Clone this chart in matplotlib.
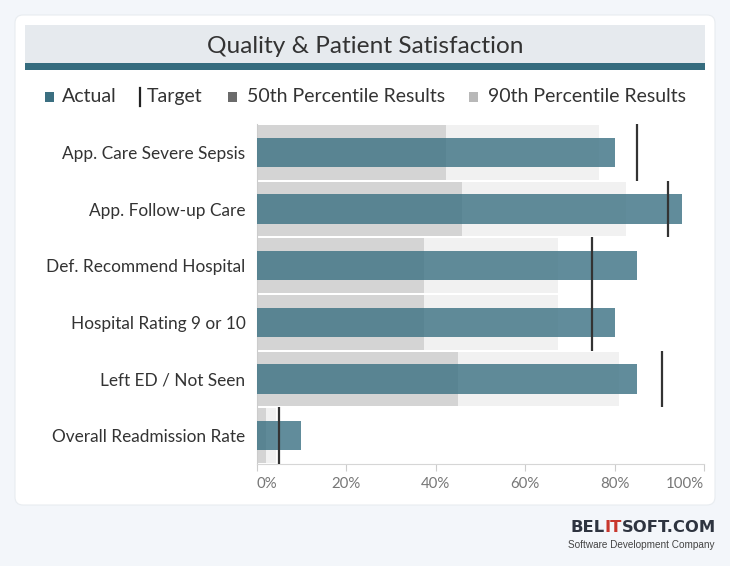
import numpy as np
import matplotlib
matplotlib.use("Agg")
import matplotlib.pyplot as plt
from matplotlib.patches import FancyBboxPatch, Rectangle

plt.rcParams['font.family'] = ['Lato', 'DejaVu Sans']

# data (percent)
categories = ["App. Care Severe Sepsis", "App. Follow-up Care", "Def. Recommend Hospital",
              "Hospital Rating 9 or 10", "Left ED / Not Seen", "Overall Readmission Rate"]
actual = [80, 95, 85, 80, 85, 10]
target = [85, 92, 75, 75, 90.5, 5]
p50 = [42.3, 46, 37.5, 37.5, 45, 2.1]
p90 = [76.5, 82.6, 67.4, 67.4, 81, 4.4]
tick_vals = [0, 20, 40, 60, 80, 100]
tick_labels = ["0%", "20%", "40%", "60%", "80%", "100%"]

W, H = 730, 566
fig = plt.figure(figsize=(W / 100, H / 100), dpi=100)
fig.patch.set_facecolor("#f3f6fa")

# background / decorations in pixel coordinates
bg = fig.add_axes([0, 0, 1, 1], zorder=0)
bg.set_xlim(0, W)
bg.set_ylim(H, 0)
bg.axis("off")
bg.add_patch(FancyBboxPatch((15, 15), 700, 490, boxstyle="round,pad=0,rounding_size=8",
                            fc="white", ec="#e8ecf0", lw=0.8))
bg.add_patch(Rectangle((25, 25), 680, 38, fc="#e6eaee", ec="none"))
bg.add_patch(Rectangle((25, 63), 680, 7, fc="#356c7e", ec="none"))
bg.text(365, 46.5, "Quality & Patient Satisfaction", ha="center", va="center",
        fontsize=17.6, color="#333333")

# legend
ly = 96.5
lfs = 14
bg.add_patch(Rectangle((45, ly - 5), 9, 10, fc="#3b6f81", ec="none"))
bg.text(62, ly, "Actual", va="center", fontsize=lfs, color="#333333")
bg.plot([140, 140], [ly - 9, ly + 9], color="#222222", lw=1.6)
bg.text(147, ly, "Target", va="center", fontsize=lfs, color="#333333")
bg.add_patch(Rectangle((228, ly - 5), 9, 10, fc="#6b6b6b", ec="none"))
bg.text(247, ly, "50th Percentile Results", va="center", fontsize=lfs, color="#333333")
bg.add_patch(Rectangle((469, ly - 5), 9, 10, fc="#b8b8b8", ec="none"))
bg.text(488, ly, "90th Percentile Results", va="center", fontsize=lfs, color="#333333")

# logo: chain the coloured pieces one after another
renderer = fig.canvas.get_renderer()
x0 = 570
for piece, col in [("BEL", "#2e3440"), ("IT", "#c8372d"), ("SOFT.COM", "#2e3440")]:
    t = bg.text(x0, 528, piece, fontsize=11.8, fontweight="bold", color=col, va="center",
                family=["DejaVu Sans"])
    bb = t.get_window_extent(renderer)
    x0 += bb.width
bg.text(714, 545, "Software Development Company", fontsize=7.2, color="#444444",
        ha="right", va="center", family=["Liberation Sans", "DejaVu Sans"])

# chart
ax = fig.add_axes([256.7 / W, 1 - 464 / H, 447.3 / W, 340 / H], zorder=1)
ax.set_facecolor("none")
y = np.arange(len(categories))

ax.barh(y, p90, height=0.97, color="#f1f1f1", zorder=1)
ax.barh(y, p50, height=0.97, color="#d4d4d4", zorder=2)
ax.barh(y, actual, height=0.52, color="#3a7082", alpha=0.8, zorder=3)
ax.vlines(target, y - 0.5, y + 0.5, color="#333333", lw=1.6, zorder=4)

ax.set_xlim(0, 100)
ax.set_ylim(len(categories) - 0.5, -0.5)
ax.set_yticks(y)
ax.set_yticklabels(categories, fontsize=12.4, color="#333333")
ax.tick_params(axis="y", length=0, pad=8)
ax.set_xticks(tick_vals)
ax.set_xticklabels(tick_labels, fontsize=10.8, color="#777777")
ax.tick_params(axis="x", length=5, color="#cccccc", pad=4)
for lab, ha in zip(ax.get_xticklabels(), ["left", "center", "center", "center", "center", "right"]):
    lab.set_ha(ha)

for s in ["top", "right"]:
    ax.spines[s].set_visible(False)
ax.spines["left"].set_color("#cccccc")
ax.spines["left"].set_linestyle((0, (1, 1)))
ax.spines["bottom"].set_color("#d6d6d6")

fig.savefig("out.png", dpi=100, facecolor=fig.get_facecolor())
